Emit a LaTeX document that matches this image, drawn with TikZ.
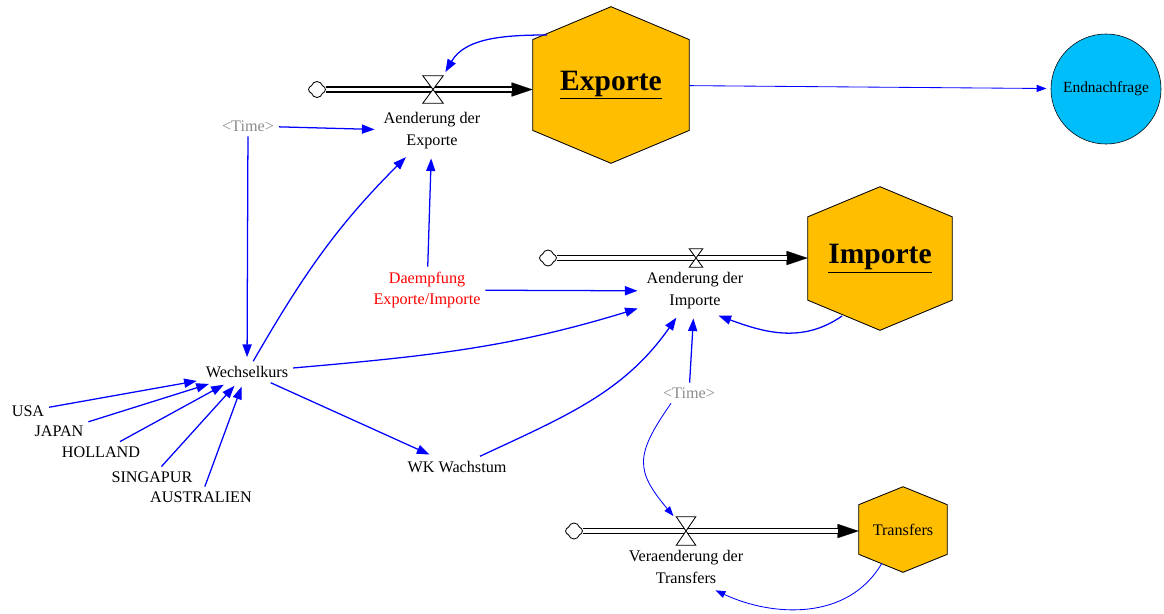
\documentclass[tikz,border=0pt]{standalone}
\usepackage{fontspec}
\setmainfont{Liberation Serif}
\usetikzlibrary{arrows.meta,calc,shapes.symbols,backgrounds}

\definecolor{stockfill}{RGB}{255,190,0}
\definecolor{endfill}{RGB}{0,190,250}

\begin{document}
\begin{tikzpicture}[x=0.025cm, y=0.025cm,
    every node/.style={font=\fontsize{11.5}{15.5}\selectfont, align=center},
    link/.style={draw=blue, line width=0.9pt, shorten >=3pt, -{Triangle[length=9pt,width=6.5pt]}},
    thinlink/.style={link, line width=0.6pt, -{Triangle[length=7pt,width=5pt]}},
    pipe/.style={line width=4.3pt, -{Triangle[length=15pt,width=10pt,line width=0.1pt]},
        postaction={draw=white, line width=2.5pt, -, shorten >=15pt}},
    stock/.style={inner sep=0pt, font=\fontsize{21}{24}\selectfont\bfseries},
    valve/.style={inner sep=0pt},
    source/.style={cloud, cloud puffs=4, cloud puff arc=150, shape border rotate=45, draw, line width=0.6pt, minimum width=0.42cm, minimum height=0.4cm, inner sep=0pt},
    ghost/.style={text=black!45}]

    \useasboundingbox (0,0) rectangle (1164,-613);

    % The stocks
    \node[stock, minimum width=3.9cm, minimum height=3.9cm] (exp) at (611,-85) {\underline{Exporte}};
    \node[stock, minimum width=3.6cm, minimum height=3.575cm] (imp) at (880,-258.5) {\underline{Importe}};
    \node[stock, font=\fontsize{11.5}{15.5}\selectfont, minimum width=2.2cm, minimum height=2.125cm] (tra) at (903,-529.5) {Transfers};
    \node[circle, draw, fill=endfill, minimum size=2.75cm, inner sep=0pt, font=\fontsize{11}{13}\selectfont] (endn) at (1106,-89) {Endnachfrage};

    \begin{scope}[on background layer]
        \foreach \s in {exp,imp,tra}
            \filldraw[fill=stockfill, line width=0.6pt] (\s.north)
                -- ($(\s.north east)!.21!(\s.south east)$) -- ($(\s.north east)!.79!(\s.south east)$)
                -- (\s.south)
                -- ($(\s.north west)!.79!(\s.south west)$) -- ($(\s.north west)!.21!(\s.south west)$) -- cycle;
    \end{scope}

    % Clouds and valves
    \node[source] (cExp) at (317,-89.5) {};
    \node[source] (cImp) at (548,-258) {};
    \node[source] (cTra) at (574,-531) {};
    \node[valve, minimum width=0.5cm, minimum height=0.675cm] (vExp) at (433,-89.5) {};
    \node[valve, minimum width=0.325cm, minimum height=0.45cm] (vImp) at (696,-258) {};
    \node[valve, minimum width=0.475cm, minimum height=0.7cm] (vTra) at (686,-531) {};

    % The variables
    \node (aExp) at (432,-131) {Aenderung der\\Exporte};
    \node (aImp) at (695,-291) {Aenderung der\\Importe};
    \node (vTraL) at (686,-567) {Veraenderung der\\Transfers};
    \node[text=red] (daem) at (427,-290) {Daempfung\\Exporte/Importe};
    \node[ghost] (time1) at (248,-126) {<Time>};
    \node[ghost] (time2) at (689,-393) {<Time>};
    \node (wk) at (247,-372) {Wechselkurs};
    \node (wkw) at (457,-467) {WK Wachstum};
    \node (usa) at (28,-411) {USA};
    \node (jap) at (59,-431) {JAPAN};
    \node (hol) at (101,-452) {HOLLAND};
    \node (sin) at (152,-477) {SINGAPUR};
    \node (aus) at (201,-497) {AUSTRALIEN};

    % The flows
    \draw[pipe] (cExp) -- (exp.west |- vExp);
    \draw[pipe] (cImp) -- (imp.west |- vImp);
    \draw[pipe] (cTra) -- (tra.west |- vTra);
    \foreach \v in {vExp,vImp,vTra}
        \draw[fill=white, line width=0.6pt] (\v.north west) -- (\v.north east) -- (\v.south west) -- (\v.south east) -- cycle;

    % The links
    \draw[link] ($(exp)+(-64,50)$) to[out=180,in=60] (vExp.north east);
    \draw[thinlink] (exp) -- (endn);
    \draw[link] (time1) -- (aExp);
    \draw[link] (time1) -- (wk);
    \draw[link] (wk) to[out=60,in=225] (aExp);
    \draw[link] (daem) -- (aExp);
    \draw[link] (daem) -- (aImp);
    \draw[link] (wk) to[out=5,in=197] (aImp);
    \draw[link] (wk) -- (wkw);
    \draw[link] (wkw) to[out=25,in=235] (aImp);
    \draw[link] (time2) -- (aImp);
    \draw[link] ($(imp)+(-38,-57.5)$) to[out=215,in=-20] (aImp.-50);
    \draw[thinlink] (time2.210) to[out=235,in=130,looseness=1.4] (vTra);
    \draw[thinlink] ($(tra)+(-21,-33.5)$) to[out=240,in=-25] (vTraL.-40);
    \foreach \c in {usa,jap,hol,sin,aus}
        \draw[link] (\c) -- (wk);
\end{tikzpicture}
\end{document}
